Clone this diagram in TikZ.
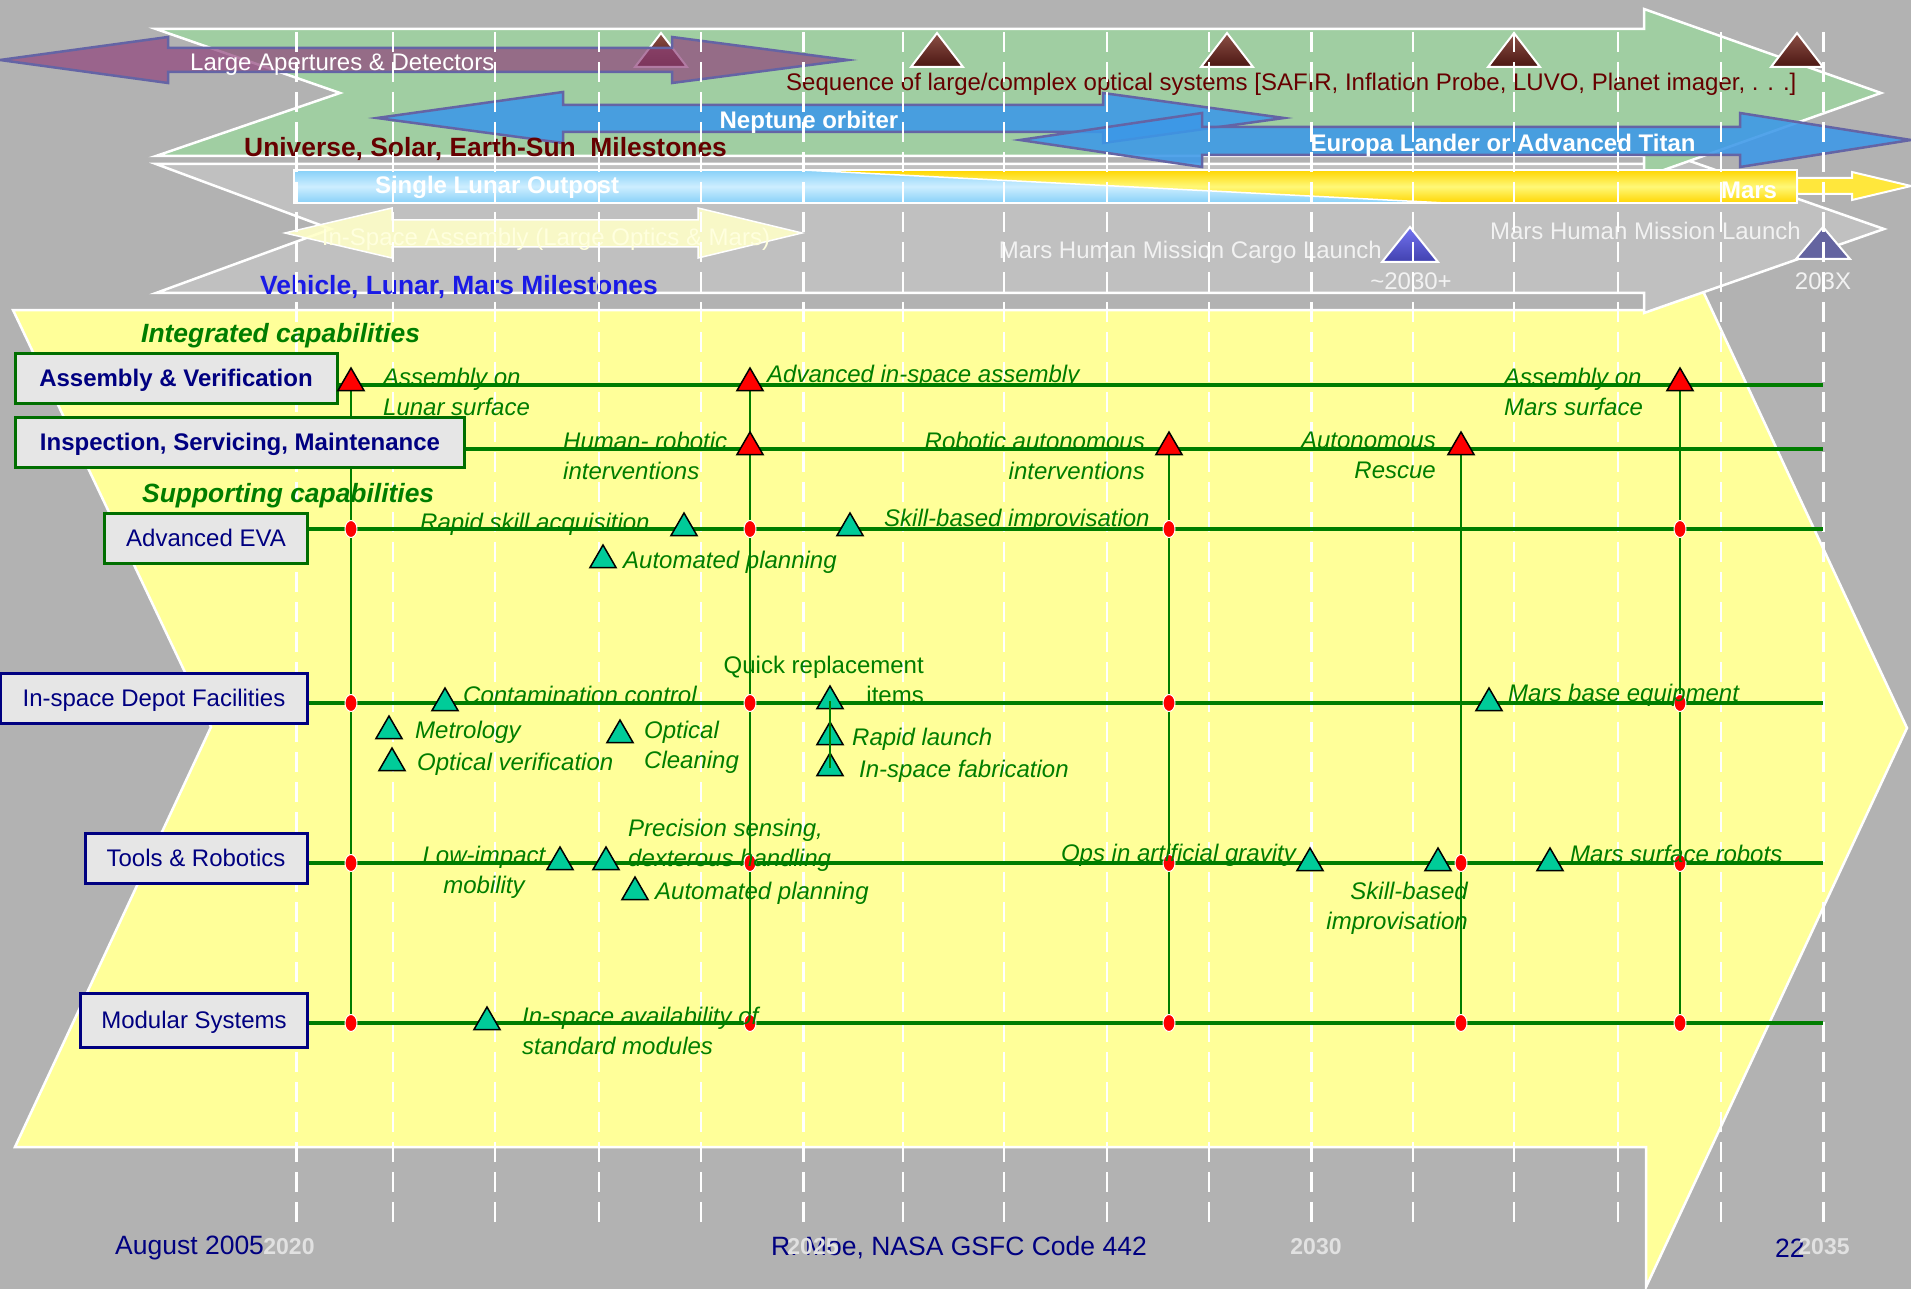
\documentclass[tikz,border=0pt]{standalone}
\usepackage{fontspec}
\setmainfont{Liberation Sans}
\usepackage{tikz}
\usetikzlibrary{shapes.geometric, positioning, backgrounds}
\definecolor{bggray}{RGB}{178,178,178}
\definecolor{vehiclegray}{RGB}{192,192,192}
\definecolor{universegreen}{RGB}{160,206,162}
\definecolor{chevronyellow}{RGB}{255,255,153}
\definecolor{aperturepurple}{RGB}{145,67,124}
\definecolor{arrowslate}{RGB}{100,100,165}
\definecolor{missionblue}{RGB}{60,152,232}
\definecolor{lunaredge}{RGB}{135,208,248}
\definecolor{lunarmid}{RGB}{205,238,255}
\definecolor{marsedge}{RGB}{255,214,0}
\definecolor{marsmid}{RGB}{255,248,120}
\definecolor{assemblycream}{RGB}{255,255,200}
\definecolor{milestonered}{RGB}{102,0,0}
\definecolor{vehicleblue}{RGB}{26,26,230}
\definecolor{capgreen}{RGB}{0,125,0}
\definecolor{boxgreen}{RGB}{0,110,0}
\definecolor{boxgray}{RGB}{230,230,230}
\definecolor{labelnavy}{RGB}{0,0,128}
\definecolor{taskteal}{RGB}{0,204,153}
\definecolor{browntop}{RGB}{140,80,70}
\definecolor{brownbottom}{RGB}{75,22,18}
\definecolor{cargotop}{RGB}{115,115,240}
\definecolor{cargobottom}{RGB}{65,65,175}
\definecolor{launchslate}{RGB}{100,100,160}
\definecolor{paletext}{RGB}{242,242,242}
\definecolor{yeargray}{RGB}{225,225,225}

\tikzset{
  chevron/.style={draw=white, line width=2.5pt},
  aperture/.style={draw=arrowslate, line width=2.5pt, fill=aperturepurple, fill opacity=0.7},
  mission/.style={draw=arrowslate, line width=2.5pt, fill=missionblue, fill opacity=0.88},
  bannertext/.style={inner sep=0pt, yshift=-2.5pt, font=\fontsize{24}{30}\selectfont},
  bannerbold/.style={inner sep=0pt, yshift=-2.5pt, font=\fontsize{24}{30}\selectfont\bfseries},
  bannerhead/.style={inner sep=0pt, yshift=-2.5pt, anchor=west, font=\fontsize{26.4}{30}\selectfont\bfseries},
  yearline/.style={white, line width=2pt, dash pattern=on 20pt off 10pt},
  rowbox/.style={fill=boxgray, line width=3pt, inner sep=0pt, minimum height=50pt, text height=17pt, text depth=0pt, text=labelnavy, font=\fontsize{24}{30}\selectfont},
  rowline/.style={capgreen, line width=4pt},
  linkline/.style={capgreen, line width=2pt},
  redmark/.style={regular polygon, regular polygon sides=3, inner sep=0pt, minimum size=30pt, fill=red, draw=black, line width=1.5pt},
  tealmark/.style={redmark, fill=taskteal},
  junction/.style={ellipse, inner sep=0pt, minimum width=12pt, minimum height=17pt, fill=red, draw=white, line width=1pt},
  task/.style={inner sep=0pt, yshift=-2.5pt, text=capgreen, font=\fontsize{24}{30}\selectfont\itshape},
  capheading/.style={inner sep=0pt, yshift=-2.5pt, anchor=west, text=capgreen, font=\fontsize{26.4}{30}\selectfont\bfseries\itshape},
  footer/.style={inner sep=0pt, yshift=-4pt, text=labelnavy, font=\fontsize{26.5}{30}\selectfont},
  yearlabel/.style={inner sep=0pt, yshift=-3pt, text=yeargray, font=\fontsize{23}{30}\selectfont\bfseries},
}

\begin{document}
\begin{tikzpicture}[x=1pt, y=-1pt]
  \useasboundingbox (0,0) rectangle (1911,1289);

  \begin{pgfonlayer}{background}
  \fill[bggray] (0,0) rectangle (1911,1289);

  % Big chevrons
  \draw[chevron, fill=chevronyellow] (13,310) -- (1646,310) -- (1646,169) -- (1907,728) -- (1646,1287) -- (1646,1147) -- (15,1147) -- (211,727) -- cycle;
  \draw[chevron, fill=vehiclegray] (156,164) -- (1644,164) -- (1644,145) -- (1884,229) -- (1644,313) -- (1644,293) -- (156,293) -- (331,229) -- cycle;
  \draw[chevron, fill=universegreen] (156,29) -- (1644,29) -- (1644,9) -- (1881,93) -- (1644,177) -- (1644,156) -- (156,156) -- (340,93) -- cycle;

  % Optical system milestones
  \foreach \x in {661,937,1227,1514,1797}
    \draw[white, line width=2pt, top color=browntop, bottom color=brownbottom] (\x-26,67) -- (\x,33) -- (\x+26,67) -- cycle;

  % Large apertures
  \draw[aperture] (0,60) -- (168,37) -- (168,48) -- (672,48) -- (672,37) -- (848,60) -- (672,83) -- (672,72) -- (168,72) -- (168,83) -- cycle;
  \node[bannertext, anchor=west, text=white] (apertures) at (190,62) {Large Apertures \& Detectors};
  \node[bannertext, anchor=west, text=milestonered] (sequence) at (786,82) {Sequence of large/complex optical systems [SAFIR, Inflation Probe, LUVO, Planet imager, . . .]};

  % Outer planet missions
  \draw[mission] (377,118) -- (563,92) -- (563,105) -- (1103,105) -- (1103,93) -- (1284,118) -- (1103,143) -- (1103,132) -- (563,132) -- (563,143) -- cycle;
  \draw[mission] (1020,140) -- (1202,113) -- (1202,127) -- (1740,127) -- (1740,113) -- (1911,140) -- (1740,167) -- (1740,155) -- (1202,155) -- (1202,167) -- cycle;
  \node[bannerbold, text=white] (neptune) at (809,120) {Neptune orbiter};
  \node[bannerbold, text=white] (europa) at (1503,143) {Europa Lander or Advanced Titan};
  \node[bannerhead, text=milestonered] (universe) at (244,146) {Universe, Solar, Earth-Sun\ \ Milestones};

  % Lunar outpost and Mars
  \shade[top color=lunaredge, bottom color=lunaredge, middle color=lunarmid] (294,170) rectangle (1797,203);
  \shade[top color=marsedge, bottom color=marsedge, middle color=marsmid] (802,170) -- (1797,170) -- (1797,203) -- (1446,203) -- cycle;
  \draw[white, line width=1.5pt] (802,170) -- (1446,203);
  \draw[white, line width=2pt] (294,170) rectangle (1797,203);
  \draw[white, line width=2pt, fill=marsedge!50!marsmid] (1797,178) -- (1852,178) -- (1852,172) -- (1911,186) -- (1852,200) -- (1852,194) -- (1797,194) -- cycle;
  \node[bannerbold, text=white] (lunar) at (497,185) {Single Lunar Outpost};
  \node[bannerbold, text=white] (mars) at (1749,188) {Mars};

  % In-space assembly
  \draw[white, line width=1.5pt, fill=assemblycream, fill opacity=0.9] (285,233) -- (392,208) -- (392,220) -- (698,220) -- (698,208) -- (802,233) -- (698,258) -- (698,247) -- (392,247) -- (392,258) -- cycle;
  \node[bannertext, text=assemblycream!60!white] (assembly) at (546,237) {In-Space Assembly (Large Optics \& Mars)};

  % Human Mars missions
  \draw[white, line width=2pt, top color=cargotop, bottom color=cargobottom] (1382,262) -- (1410,227) -- (1438,262) -- cycle;
  \draw[white, line width=2pt, fill=launchslate] (1796,259) -- (1823,227) -- (1850,259) -- cycle;
  \node[bannertext, anchor=east, text=paletext] (cargo) at (1382,250) {Mars Human Mission Cargo Launch};
  \node[bannertext, text=paletext] (cargodate) at (1411,279) {\textasciitilde2030+};
  \node[bannertext, anchor=east, text=paletext] (crew) at (1801,228) {Mars Human Mission Launch};
  \node[bannertext, text=paletext] (crewdate) at (1823,279) {203X};
  \node[bannerhead, text=vehicleblue] (vehicle) at (260,284) {Vehicle, Lunar, Mars Milestones};

  % Year grid
  \foreach \x in {296,393,495,599,701,803,903,1004,1107,1209,1311,1413,1514,1618,1721,1823}
    \draw[yearline] (\x,32) -- (\x,1232);
  \foreach \x in {296,803,1311,1823}
    \draw[yearline, line width=3pt] (\x,32) -- (\x,1232);
  \end{pgfonlayer}

  % Capability rows
  \node[capheading] (integrated) at (141,333) {Integrated capabilities};
  \node[capheading] (supporting) at (142,493) {Supporting capabilities};
  \node[rowbox, draw=boxgreen, minimum width=322pt, font=\fontsize{24}{30}\selectfont\bfseries] (avbox) at (176,378) {Assembly \& Verification};
  \node[rowbox, draw=boxgreen, minimum width=449pt, font=\fontsize{24}{30}\selectfont\bfseries] (ismbox) at (240,442) {Inspection, Servicing, Maintenance};
  \node[rowbox, draw=boxgreen, minimum width=203pt] (evabox) at (206,538) {Advanced EVA};
  \node[rowbox, draw=labelnavy, minimum width=307pt] (depotbox) at (154,698) {In-space Depot Facilities};
  \node[rowbox, draw=labelnavy, minimum width=222pt] (toolsbox) at (196,858) {Tools \& Robotics};
  \node[rowbox, draw=labelnavy, minimum width=227pt, minimum height=54pt] (modbox) at (194,1020) {Modular Systems};

  \foreach \col/\x in {a/351,b/750,c/1169,d/1461,e/1680}
    \foreach \row/\y in {1/385,2/449,3/529,4/703,5/863,6/1023}
      \coordinate (\col\row) at (\x,\y);
  \foreach \row/\y in {1/385,2/449,3/529,4/703,5/863,6/1023}
    \coordinate (end\row) at (1823,\y);

  \foreach \p in {a1,b1,e1,b2,c2,d2}
    \node[redmark] (m-\p) at ([yshift=2pt]\p) {};
  \foreach \p in {a3,b3,c3,e3,a4,b4,c4,e4,a5,b5,c5,d5,e5,a6,b6,c6,d6,e6}
    \node[junction] (j-\p) at (\p) {};

  % Supporting milestones
  \node[tealmark] (tv1) at (684,528) {};
  \node[tealmark] (tv2) at (850,528) {};
  \node[tealmark] (tv3) at (603,560) {};
  \node[tealmark] (td1) at (445,703) {};
  \node[tealmark] (td2) at (389,731) {};
  \node[tealmark] (td3) at (392,763) {};
  \node[tealmark] (td4) at (620,735) {};
  \node[tealmark] (td5) at (830,701) {};
  \node[tealmark] (td6) at (830,737) {};
  \node[tealmark] (td7) at (830,768) {};
  \node[tealmark] (td8) at (1489,703) {};
  \node[tealmark] (tr1) at (560,862) {};
  \node[tealmark] (tr2) at (606,862) {};
  \node[tealmark] (tr3) at (635,892) {};
  \node[tealmark] (tr4) at (1310,863) {};
  \node[tealmark] (tr5) at (1438,863) {};
  \node[tealmark] (tr6) at (1550,863) {};
  \node[tealmark] (tm1) at (487,1022) {};

  \begin{scope}[on background layer]
    \draw[rowline] (avbox.east |- end1) -- (end1);
    \draw[rowline] (ismbox.east |- end2) -- (end2);
    \draw[rowline] (evabox.east |- end3) -- (end3);
    \draw[rowline] (depotbox.east |- end4) -- (end4);
    \draw[rowline] (toolsbox.east |- end5) -- (end5);
    \draw[rowline] (modbox.east |- end6) -- (end6);
    \draw[linkline] (m-a1.center) -- (j-a6.center);
    \draw[linkline] (m-b1.center) -- (j-b6.center);
    \draw[linkline] (m-c2.center) -- (j-c6.center);
    \draw[linkline] (m-d2.center) -- (j-d6.center);
    \draw[linkline] (m-e1.center) -- (j-e6.center);
  \end{scope}
  \draw[linkline] (td5.center) -- (td7.center);

  % Labels
  \node[task, anchor=west, align=left] (lunarasm) at (383,389) {Assembly on\\Lunar surface};
  \node[task, anchor=west] (spaceasm) at (767,374) {Advanced in-space assembly};
  \node[task, anchor=west, align=left] (marsasm) at (1504,389) {Assembly on\\Mars surface};
  \node[task, anchor=west, align=left] (humanrob) at (563,453) {Human- robotic\\interventions};
  \node[task, anchor=east, align=right] (robauto) at (1145,453) {Robotic autonomous\\interventions};
  \node[task, anchor=east, align=right] (rescue) at (1436,453) {Autonomous\\Rescue};
  \node[task, anchor=west] (skillacq) at (420,522) {Rapid skill acquisition};
  \node[task, anchor=west] (skillimp) at (884,518) {Skill-based improvisation};
  \node[task, anchor=west] (evaplan) at (623,560) {Automated planning};
  \node[task, anchor=west] (contam) at (463,692) {Contamination control};
  \node[task, anchor=west] (metro) at (415,730) {Metrology};
  \node[task, anchor=west] (optver) at (417,762) {Optical verification};
  \node[task, anchor=west, align=left] (optclean) at (644,745) {Optical\\Cleaning};
  \node[task, anchor=east, align=right, font=\fontsize{24}{30}\selectfont] (quick) at (924,677) {Quick replacement\\items};
  \node[task, anchor=west] (launch) at (852,737) {Rapid launch};
  \node[task, anchor=west] (fab) at (859,769) {In-space fabrication};
  \node[task, anchor=west] (marsbase) at (1508,693) {Mars base equipment};
  \node[task, align=center] (lowimpact) at (484,870) {Low-impact\\mobility};
  \node[task, anchor=west, align=left] (precision) at (628,843) {Precision sensing,\\dexterous handling};
  \node[task, anchor=west] (toolsplan) at (655,891) {Automated planning};
  \node[task, anchor=east] (gravity) at (1296,853) {Ops in artificial gravity};
  \node[task, anchor=east, align=right] (toolsskill) at (1468,906) {Skill-based\\improvisation};
  \node[task, anchor=west] (surfrobots) at (1570,851) {Mars surface robots};
  \node[task, anchor=west, align=left] (modules) at (522,1028) {In-space availability of\\standard modules};

  % Footer
  \node[footer, anchor=west] (date) at (115,1244) {August 2005};
  \node[footer, anchor=west] (author) at (771,1244) {R. Moe, NASA GSFC Code 442};
  \node[footer, anchor=west] (page) at (1775,1244) {22};
  \node[yearlabel] (y2020) at (289,1244) {2020};
  \node[yearlabel] (y2025) at (813,1244) {2025};
  \node[yearlabel] (y2030) at (1316,1244) {2030};
  \node[yearlabel] (y2035) at (1824,1244) {2035};
\end{tikzpicture}
\end{document}
